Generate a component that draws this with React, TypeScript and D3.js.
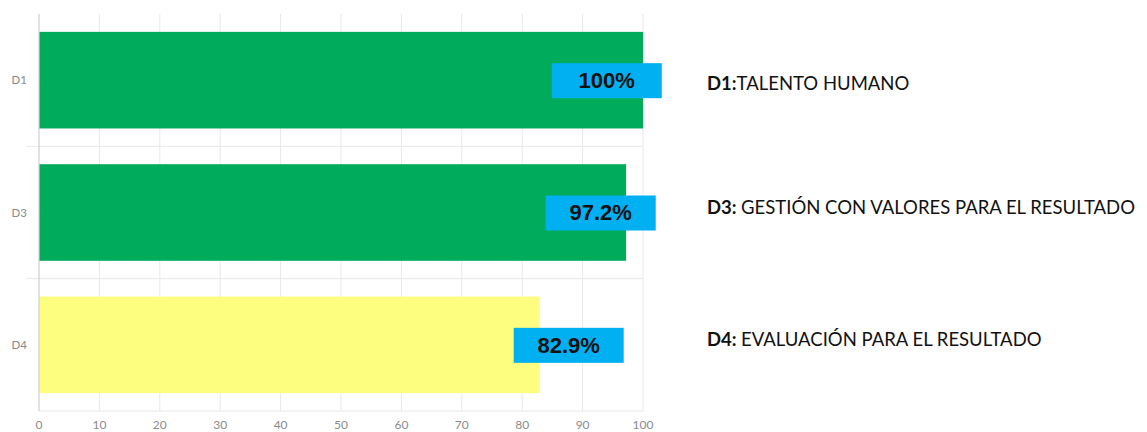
import React, { useEffect, useRef } from 'react';
import * as d3 from 'd3';

const categories = ['D1', 'D3', 'D4'];
const values = [100, 97.2, 82.9];
const barColors = ['#00AB5B', '#00AB5B', '#FDFD80'];
const valueLabels = ['100%', '97.2%', '82.9%'];
// where the blue value boxes sit, in axis units
const labelCenters = [94.0, 93.0, 87.7];
const legendCodes = ['D1:', 'D3: ', 'D4: '];
const legendNames = ['TALENTO HUMANO', 'GESTIÓN CON VALORES PARA EL RESULTADO', 'EVALUACIÓN PARA EL RESULTADO'];
const xTicks = [0, 10, 20, 30, 40, 50, 60, 70, 80, 90, 100];

const App: React.FC = () => {
  const svgRef = useRef<SVGSVGElement>(null);
  const width = 1147;
  const height = 432;

  useEffect(() => {
    if (!svgRef.current) return;
    const svg = d3.select(svgRef.current);
    svg.selectAll('*').remove();

    const left = 39, right = 643, top = 14, bottom = 411;

    const x = d3.scaleLinear().domain([0, 100]).range([left, right]);
    const y = d3.scaleBand<string>()
      .domain(categories)
      .range([top, bottom])
      .paddingInner(0.27)
      .paddingOuter(0.135);

    // vertical grid
    svg.append('g')
      .selectAll('line')
      .data(xTicks.slice(1))
      .join('line')
      .attr('x1', d => x(d)).attr('x2', d => x(d))
      .attr('y1', top).attr('y2', bottom)
      .attr('stroke', '#e8e8e8')
      .attr('stroke-width', 1);

    // category separators
    const step = y.step();
    svg.append('g')
      .selectAll('line')
      .data(categories.slice(1))
      .join('line')
      .attr('x1', 26).attr('x2', right)
      .attr('y1', d => (y(d) || 0) - step * 0.135)
      .attr('y2', d => (y(d) || 0) - step * 0.135)
      .attr('stroke', '#e8e8e8');

    // bottom line
    svg.append('line')
      .attr('x1', left).attr('x2', right)
      .attr('y1', bottom).attr('y2', bottom)
      .attr('stroke', '#e6e6e6');

    // bars
    svg.append('g')
      .selectAll('rect')
      .data(categories)
      .join('rect')
      .attr('x', left)
      .attr('y', d => y(d) || 0)
      .attr('width', (_, i) => x(values[i]) - left)
      .attr('height', y.bandwidth())
      .attr('fill', (_, i) => barColors[i]);

    // left axis line
    svg.append('line')
      .attr('x1', left).attr('x2', left)
      .attr('y1', top).attr('y2', bottom)
      .attr('stroke', '#cfcfcf')
      .attr('stroke-width', 1.2);

    // category labels
    svg.append('g')
      .selectAll('text')
      .data(categories)
      .join('text')
      .attr('x', 27)
      .attr('y', d => (y(d) || 0) + y.bandwidth() / 2)
      .attr('dy', '0.35em')
      .attr('text-anchor', 'end')
      .style('font-family', 'Lato, sans-serif')
      .style('font-size', '11.5px')
      .style('fill', '#8a8a8a')
      .text(d => d);

    // x tick labels
    svg.append('g')
      .selectAll('text')
      .data(xTicks)
      .join('text')
      .attr('x', d => x(d))
      .attr('y', 425)
      .attr('dy', '0.35em')
      .attr('text-anchor', 'middle')
      .style('font-family', 'Lato, sans-serif')
      .style('font-size', '12px')
      .style('fill', '#8a8a8a')
      .text(d => String(d));

    // value boxes
    const boxes = svg.append('g')
      .selectAll('g')
      .data(categories)
      .join('g')
      .attr('transform', (d, i) => `translate(${x(labelCenters[i])}, ${(y(d) || 0) + y.bandwidth() / 2})`);

    boxes.append('rect')
      .attr('x', -55).attr('y', -17)
      .attr('width', 110).attr('height', 35)
      .attr('fill', '#00B0F0');

    boxes.append('text')
      .attr('text-anchor', 'middle')
      .attr('dy', '0.36em')
      .style('font-family', '"Liberation Sans", Arial, sans-serif')
      .style('font-weight', 'bold')
      .style('font-size', '22px')
      .style('fill', '#111')
      .text((_, i) => valueLabels[i]);

    // legend texts
    const legend = svg.append('g')
      .selectAll('text')
      .data(categories)
      .join('text')
      .attr('x', 707)
      .attr('y', (d, i) => (y(d) || 0) + y.bandwidth() / 2 + [3, -5, -5][i])
      .attr('dy', '0.35em')
      .style('font-family', 'Lato, sans-serif')
      .style('font-size', '18.5px')
      .style('fill', '#111');

    legend.append('tspan')
      .style('font-weight', 'bold')
      .text((_, i) => legendCodes[i]);
    legend.append('tspan')
      .text((_, i) => legendNames[i]);
  }, []);

  return (
    <div style={{ width, height }}>
      <svg ref={svgRef} width={width} height={height} style={{ position: 'absolute', left: 0, top: 0, background: '#fff' }} />
    </div>
  );
};

export default App;
